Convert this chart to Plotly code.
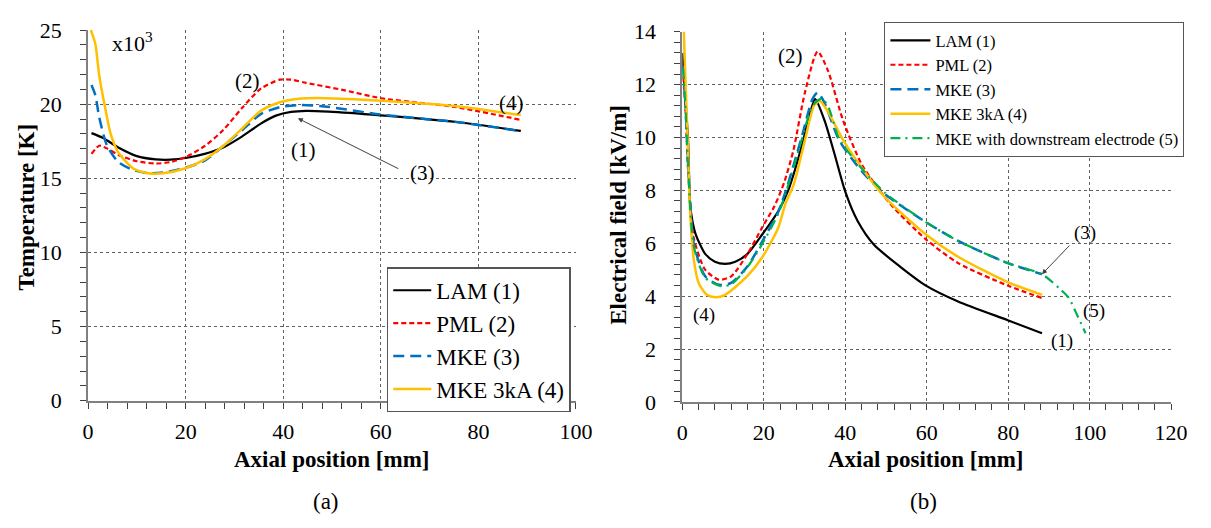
import plotly.graph_objects as go
from plotly.subplots import make_subplots

# ---------------- Left panel (a): Temperature x10^3 K ----------------
a_lam_x = [0.7, 3.1, 6.2, 10, 13.9, 16.9, 20, 23.9, 27.7, 31.6, 35.4, 38.5, 41.6, 44.7, 49.3, 60, 75.5, 88.7]
a_lam_y = [18.05, 17.72, 17.08, 16.5, 16.28, 16.26, 16.37, 16.65, 17.08, 17.83, 18.69, 19.23, 19.48, 19.55, 19.5, 19.25, 18.8, 18.2]

a_pml_x = [0.7, 2.3, 4, 6.2, 10, 13.9, 16.9, 20, 23.9, 27.7, 31.6, 35.4, 39.3, 41.6, 44.7, 52.4, 60.1, 67.8, 75.5, 88.6]
a_pml_y = [16.65, 17.2, 17.0, 16.58, 16.15, 16.0, 16.1, 16.43, 17.18, 18.26, 19.76, 21.05, 21.66, 21.66, 21.44, 20.95, 20.4, 20.1, 19.8, 18.95]

a_mke_x = [0.7, 1.5, 2.3, 3.9, 6.2, 9.2, 12.3, 15.4, 20, 23.9, 27.7, 31.6, 35.4, 39.3, 43.1, 48.5, 60.1, 75.5, 88.7]
a_mke_y = [21.3, 20.6, 19.1, 17.2, 16.1, 15.57, 15.35, 15.4, 15.72, 16.2, 17.18, 18.26, 19.33, 19.8, 19.94, 19.85, 19.3, 18.8, 18.19]

a_mke3_x = [0.3, 0.7, 1.5, 2.3, 3.5, 4.6, 6.2, 9.2, 12.3, 15.4, 20, 23.9, 27.7, 31.6, 35.4, 39.3, 43.1, 48.5, 60.1, 75.5, 88.7]
a_mke3_y = [25.5, 24.9, 24.06, 21.9, 19.76, 18.04, 16.75, 15.68, 15.35, 15.35, 15.68, 16.28, 17.18, 18.37, 19.55, 20.13, 20.37, 20.41, 20.24, 19.87, 19.27]

# ---------------- Right panel (b): Electrical field kV/m ----------------
b_lam_x = [0, 0.9, 1.4, 1.9, 2.4, 3.3, 5.6, 8, 10.5, 13, 16, 19.7, 23.5, 26, 29, 31, 32.6, 35, 37.5, 40, 43, 47, 53.6, 59.8, 67.7, 79.9, 88.3]
b_lam_y = [13.2, 11.1, 9.9, 7.53, 6.9, 6.33, 5.6, 5.3, 5.22, 5.3, 5.6, 6.35, 7.2, 8.0, 9.5, 10.7, 11.45, 10.6, 9.3, 7.95, 6.85, 5.95, 5.1, 4.4, 3.8, 3.09, 2.6]

b_pml_x = [0.2, 0.8, 1.5, 2.8, 5.6, 9, 12, 16, 19.7, 22.6, 25, 27.3, 30.1, 33.2, 35.7, 39.5, 44.2, 51, 59.8, 67.7, 79.9, 88.3]
b_pml_y = [12.3, 11.0, 8.5, 6.2, 5.0, 4.62, 4.75, 5.6, 6.63, 7.4, 8.3, 9.54, 11.7, 13.25, 12.55, 10.63, 8.94, 7.5, 6.15, 5.25, 4.4, 3.93]

b_mke_x = [0.2, 0.8, 1.5, 2.8, 5.6, 9, 12, 16, 19.7, 23.5, 25.4, 29.1, 32, 33.2, 34.8, 38.5, 44.2, 49.8, 59.8, 67.7, 79.9, 88.3]
b_mke_y = [12.7, 11.2, 8.8, 6.0, 4.75, 4.43, 4.5, 5.13, 6.09, 7.17, 7.98, 9.9, 11.47, 11.7, 11.35, 9.9, 8.7, 7.85, 6.8, 6.09, 5.25, 4.83]

b_mke3_x = [0.3, 0.8, 1.4, 1.9, 2.8, 4, 6, 8.2, 10.5, 16, 19.7, 23.5, 25.4, 27.3, 30.1, 32.4, 33.8, 35.7, 39.5, 44.2, 49.8, 59.8, 67.7, 79.9, 88.3]
b_mke3_y = [14.3, 12.0, 9.5, 7.2, 5.4, 4.5, 4.05, 3.96, 4.05, 4.77, 5.49, 6.57, 7.53, 8.2, 9.9, 11.23, 11.37, 10.99, 9.9, 8.82, 7.73, 6.33, 5.49, 4.53, 4.05]

b_mke5_x = [0.2, 0.8, 1.5, 2.8, 5.6, 9.5, 12, 16, 19.7, 23.5, 25.4, 29.1, 32, 34.3, 36, 38.5, 44.2, 49.8, 59.8, 67.7, 79.9, 88.3, 92.6, 94.9, 96.8, 99]
b_mke5_y = [12.6, 11.0, 8.6, 5.9, 4.7, 4.38, 4.45, 5.1, 6.0, 7.1, 7.9, 9.8, 11.2, 11.47, 11.1, 9.95, 8.8, 7.9, 6.8, 6.09, 5.25, 4.83, 4.29, 3.93, 3.33, 2.6]

SERIF = "Times New Roman, Liberation Serif, Times, serif"
BLACK = "#000000"
RED = "#ff0000"
BLUE = "#0070c0"
YELLOW = "#ffc000"
GREEN = "#00b050"

fig = make_subplots(rows=1, cols=2)

def add(x, y, name, color, dash, width, col, legend, group):
    fig.add_trace(go.Scatter(
        x=x, y=y, name=name, mode="lines",
        line=dict(color=color, dash=dash, width=width, shape="spline", smoothing=0.7),
        legend=legend, legendgroup=group,
    ), row=1, col=col)

add(a_lam_x, a_lam_y, "LAM (1)", BLACK, "solid", 2.2, 1, "legend", "a1")
add(a_pml_x, a_pml_y, "PML (2)", RED, "5px,3px", 2.2, 1, "legend", "a2")
add(a_mke_x, a_mke_y, "MKE (3)", BLUE, "11px,6px", 2.5, 1, "legend", "a3")
add(a_mke3_x, a_mke3_y, "MKE 3kA (4)", YELLOW, "solid", 2.5, 1, "legend", "a4")

add(b_lam_x, b_lam_y, "LAM (1)", BLACK, "solid", 2.2, 2, "legend2", "b1")
add(b_pml_x, b_pml_y, "PML (2)", RED, "5px,3px", 2.2, 2, "legend2", "b2")
add(b_mke_x, b_mke_y, "MKE (3)", BLUE, "11px,6px", 2.5, 2, "legend2", "b3")
add(b_mke3_x, b_mke3_y, "MKE 3kA (4)", YELLOW, "solid", 2.5, 2, "legend2", "b4")
add(b_mke5_x, b_mke5_y, "MKE with downstream electrode (5)", GREEN, "10px,5px,2px,5px", 2.2, 2, "legend2", "b5")

axis_common = dict(
    showline=True, linecolor="#808080", linewidth=2,
    showgrid=True, gridcolor="#606060", gridwidth=1, griddash="dot",
    zeroline=False, ticks="outside", ticklen=6, tickcolor="#404040", tickwidth=1,
    tickfont=dict(family=SERIF, size=22, color="black"),
)

fig.update_xaxes(**axis_common, range=[0, 100], dtick=20, domain=[0.0698, 0.4798],
                 minor=dict(ticks="outside", dtick=4, ticklen=6, tickcolor="#404040", showgrid=False),
                 ticklabelstandoff=4, row=1, col=1)
fig.update_yaxes(**axis_common, range=[0, 25], dtick=5, domain=[0.2273, 0.964],
                 minor=dict(ticks="outside", dtick=1, ticklen=6, tickcolor="#404040", showgrid=False),
                 ticklabelstandoff=14, row=1, col=1)
fig.update_xaxes(**axis_common, range=[0, 120], dtick=20, domain=[0.5692, 0.9799],
                 minor=dict(ticks="outside", dtick=4, ticklen=6, tickcolor="#404040", showgrid=False),
                 ticklabelstandoff=4, row=1, col=2)
fig.update_yaxes(**axis_common, range=[0, 14], dtick=2, domain=[0.2248, 0.9608],
                 minor=dict(ticks="outside", dtick=0.4, ticklen=6, tickcolor="#404040", showgrid=False),
                 ticklabelstandoff=14, row=1, col=2)

ann = []
def txt(text, x, y, xref, yref, size=20, bold=False, angle=0, xanchor="center", yanchor="middle"):
    ann.append(dict(text=("<b>%s</b>" % text) if bold else text, x=x, y=y, xref=xref, yref=yref,
                    showarrow=False, textangle=angle, xanchor=xanchor, yanchor=yanchor,
                    font=dict(family=SERIF, size=size, color="black")))

# axis titles and captions
txt("Axial position [mm]", 0.2748, 0.11, "paper", "paper", size=23, bold=True)
txt("Axial position [mm]", 0.7738, 0.11, "paper", "paper", size=23, bold=True)
txt("Temperature [K]", 0.018, 0.612, "paper", "paper", size=23, bold=True, angle=-90)
txt("Electrical field [kV/m]", 0.516, 0.597, "paper", "paper", size=23, bold=True, angle=-90)
txt("(a)", 0.27, 0.027, "paper", "paper", size=23)
txt("(b)", 0.772, 0.027, "paper", "paper", size=23)

# panel (a) labels
txt("x10<sup>3</sup>", 4.5, 24.2, "x", "y", size=22, xanchor="left")
txt("(2)", 32.6, 21.6, "x", "y", size=21)
txt("(1)", 44.2, 16.9, "x", "y", size=21)
txt("(3)", 68.6, 15.35, "x", "y", size=21)
txt("(4)", 86.8, 20.1, "x", "y", size=21)
ann.append(dict(x=43, y=19.05, ax=63.9, ay=15.6, xref="x", yref="y", axref="x", ayref="y",
                showarrow=True, arrowhead=2, arrowsize=1, arrowwidth=1, arrowcolor="#404040", text=""))

# panel (b) labels
txt("(2)", 26.5, 13.1, "x2", "y2", size=21)
txt("(3)", 98.9, 6.39, "x2", "y2", size=19)
txt("(5)", 101, 3.45, "x2", "y2", size=19)
txt("(1)", 93.2, 2.3, "x2", "y2", size=19)
txt("(4)", 5.2, 3.27, "x2", "y2", size=19)
ann.append(dict(x=88.3, y=4.83, ax=95.4, ay=5.97, xref="x2", yref="y2", axref="x2", ayref="y2",
                showarrow=True, arrowhead=2, arrowsize=1, arrowwidth=1, arrowcolor="#404040", text=""))

fig.update_layout(
    width=1211, height=528,
    margin=dict(l=0, r=0, t=0, b=0),
    paper_bgcolor="white", plot_bgcolor="white",
    showlegend=True,
    annotations=ann,
    legend=dict(x=0.3208, y=0.4924, xanchor="left", yanchor="top",
                bgcolor="white", bordercolor="#555555", borderwidth=1.5,
                font=dict(family=SERIF, size=23, color="black"),
                itemwidth=38, tracegroupgap=0),
    legend2=dict(x=0.739, y=0.98, xanchor="left", yanchor="top",
                 bgcolor="white", bordercolor="#555555", borderwidth=1,
                 font=dict(family=SERIF, size=16.5, color="black"),
                 itemwidth=40, tracegroupgap=0),
)

fig.write_html("out.html")
